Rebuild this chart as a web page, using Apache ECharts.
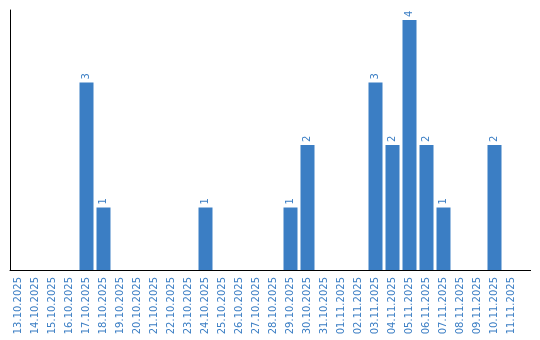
<!DOCTYPE html>
<html>
<head>
<meta charset="utf-8">
<script src="https://cdn.jsdelivr.net/npm/echarts@6/dist/echarts.min.js"></script>
<style>html,body{margin:0;padding:0;background:#fff}#c{width:540px;height:340px}</style>
</head>
<body>
<div id="c"></div>
<script>
const categories = ["13.10.2025","14.10.2025","15.10.2025","16.10.2025","17.10.2025","18.10.2025","19.10.2025","20.10.2025","21.10.2025","22.10.2025","23.10.2025","24.10.2025","25.10.2025","26.10.2025","27.10.2025","28.10.2025","29.10.2025","30.10.2025","31.10.2025","01.11.2025","02.11.2025","03.11.2025","04.11.2025","05.11.2025","06.11.2025","07.11.2025","08.11.2025","09.11.2025","10.11.2025","11.11.2025"];
const values = [0,0,0,0,3,1,0,0,0,0,0,1,0,0,0,0,1,2,0,0,0,3,2,4,2,1,0,0,2,0];

const blue = '#3b7ec4';
const chart = echarts.init(document.getElementById('c'), null, {renderer: 'canvas'});
chart.setOption({
  animation: false,
  grid: {left: 10, right: 20, top: 10, bottom: 70, containLabel: false},
  xAxis: {
    type: 'category',
    data: categories,
    axisLine: {lineStyle: {color: '#000', width: 1}},
    axisTick: {show: false},
    axisLabel: {rotate: 90, color: blue, fontFamily: 'DejaVu Sans', fontSize: 10, margin: 7, interval: 0}
  },
  yAxis: {
    type: 'value',
    min: 0,
    max: 4.16,
    axisLine: {show: true, lineStyle: {color: '#000', width: 1}},
    axisTick: {show: false},
    axisLabel: {show: false},
    splitLine: {show: false}
  },
  series: [{
    type: 'bar',
    data: values.map(v => v === 0 ? null : v),
    barWidth: 14,
    itemStyle: {color: blue},
    label: {
      show: true,
      position: 'top',
      rotate: 90,
      align: 'left',
      verticalAlign: 'middle',
      distance: 3,
      color: blue,
      fontFamily: 'DejaVu Sans',
      fontSize: 10
    }
  }],
  graphic: [{
    type: 'line',
    shape: {x1: 520, y1: 270.5, x2: 531, y2: 270.5},
    style: {stroke: '#000', lineWidth: 1}
  }]
});
</script>
</body>
</html>
